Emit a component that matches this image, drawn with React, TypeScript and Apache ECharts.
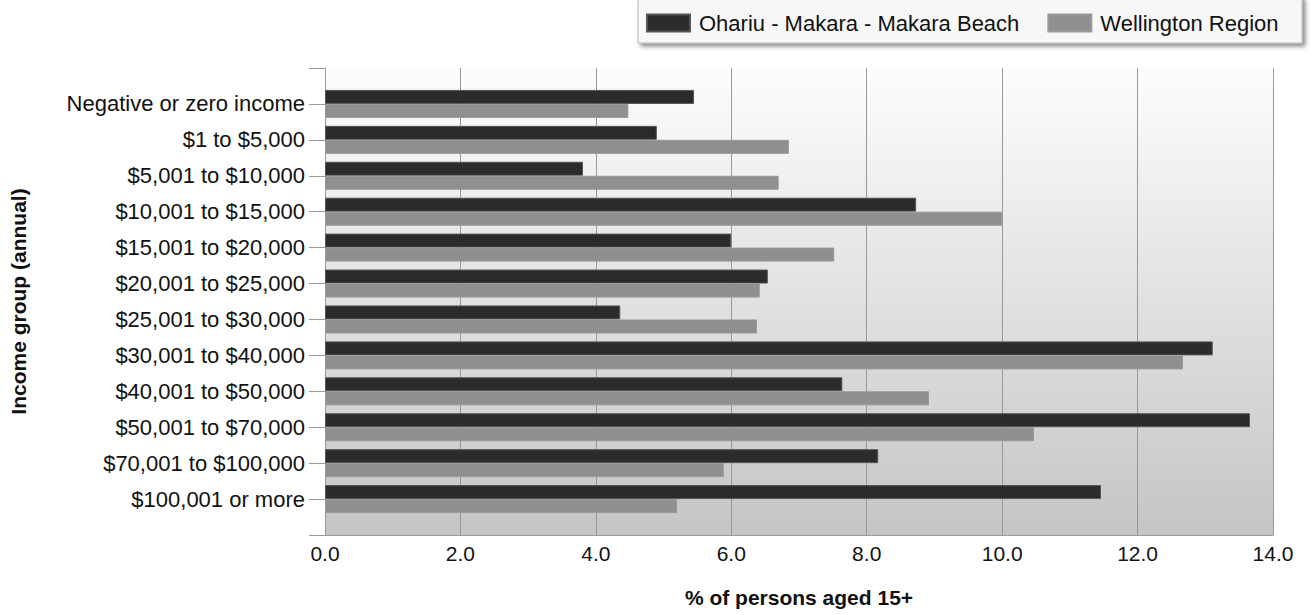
import React, { useEffect, useRef } from "react";
import * as echarts from "echarts";

const categories = [
  "Negative or zero income",
  "$1 to $5,000",
  "$5,001 to $10,000",
  "$10,001 to $15,000",
  "$15,001 to $20,000",
  "$20,001 to $25,000",
  "$25,001 to $30,000",
  "$30,001 to $40,000",
  "$40,001 to $50,000",
  "$50,001 to $70,000",
  "$70,001 to $100,000",
  "$100,001 or more",
];
const ohariu = [5.45, 4.9, 3.81, 8.73, 6.0, 6.54, 4.36, 13.11, 7.64, 13.66, 8.17, 11.46];
const wellington = [4.48, 6.85, 6.7, 10.0, 7.52, 6.42, 6.38, 12.67, 8.92, 10.47, 5.89, 5.2];
const seriesNames = ["Ohariu - Makara - Makara Beach", "Wellington Region"];
const xTicks = { min: 0, max: 14, interval: 2 };

const FONT = "'Liberation Sans', Arial, sans-serif";

export default function App() {
  const ref = useRef<HTMLDivElement>(null);
  useEffect(() => {
    if (!ref.current) return;
    const chart = echarts.init(ref.current, null, { renderer: "svg" });
    const padCats = ["", ...categories, ""];
    const pad = (a: number[]) => ["-", ...a, "-"];
    chart.setOption({
      animation: false,
      textStyle: { fontFamily: FONT },
      graphic: [
        {
          type: "rect",
          shape: { x: 638, y: -4, width: 664, height: 47 },
          style: {
            fill: "#f7f7f7",
            stroke: "#b8b8b8",
            lineWidth: 1,
            shadowBlur: 4,
            shadowOffsetX: 3,
            shadowOffsetY: 3,
            shadowColor: "rgba(0,0,0,0.45)",
          },
          z: 0,
        },
      ],
      legend: {
        left: 646,
        top: 12,
        padding: 0,
        itemWidth: 43,
        itemHeight: 17,
        itemGap: 28,
        icon: "rect",
        data: seriesNames,
        textStyle: { fontSize: 22, color: "#111", fontFamily: FONT, padding: [0, 0, 0, 4] },
        z: 5,
      },
      grid: {
        left: 325,
        right: 41,
        top: 68,
        bottom: 80,
        show: true,
        borderWidth: 0,
        backgroundColor: new echarts.graphic.LinearGradient(0, 0, 0, 1, [
          { offset: 0, color: "#fdfdfd" },
          { offset: 1, color: "#c5c5c5" },
        ]),
      },
      xAxis: {
        type: "value",
        min: xTicks.min,
        max: xTicks.max,
        interval: xTicks.interval,
        name: "% of persons aged 15+",
        nameLocation: "middle",
        nameGap: 52,
        nameTextStyle: { fontSize: 21, fontWeight: "bold", color: "#111", fontFamily: FONT },
        axisLine: { show: true, lineStyle: { color: "#999" } },
        axisTick: { show: false },
        axisLabel: {
          fontSize: 21,
          color: "#111",
          margin: 8,
          fontFamily: FONT,
          formatter: (v: number) => v.toFixed(1),
        },
        splitLine: { show: true, lineStyle: { color: "#999", width: 1 } },
      },
      yAxis: {
        type: "category",
        data: padCats,
        inverse: true,
        boundaryGap: false,
        name: "Income group (annual)",
        nameLocation: "middle",
        nameGap: 296,
        nameTextStyle: { fontSize: 21, fontWeight: "bold", color: "#111", fontFamily: FONT },
        axisLine: { show: true, lineStyle: { color: "#999" } },
        axisTick: { show: true, length: 16, interval: 0, lineStyle: { color: "#999" } },
        axisLabel: { interval: 0, fontSize: 22, color: "#111", margin: 20, fontFamily: FONT, padding: [0, 0, 2, 0] },
        splitLine: { show: false },
      },
      series: [
        {
          name: seriesNames[0],
          type: "bar",
          data: pad(ohariu),
          barWidth: 14,
          barGap: "0%",
          itemStyle: { color: "#2b2b2b", borderColor: "#555", borderWidth: 1 },
        },
        {
          name: seriesNames[1],
          type: "bar",
          data: pad(wellington),
          barWidth: 14,
          barGap: "0%",
          itemStyle: { color: "#8f8f8f", borderColor: "#999", borderWidth: 1 },
        },
      ],
    });
    return () => chart.dispose();
  }, []);
  return (
    <div
      ref={ref}
      style={{ position: "fixed", left: 0, top: 0, width: 1314, height: 615, background: "#fff" }}
    />
  );
}
